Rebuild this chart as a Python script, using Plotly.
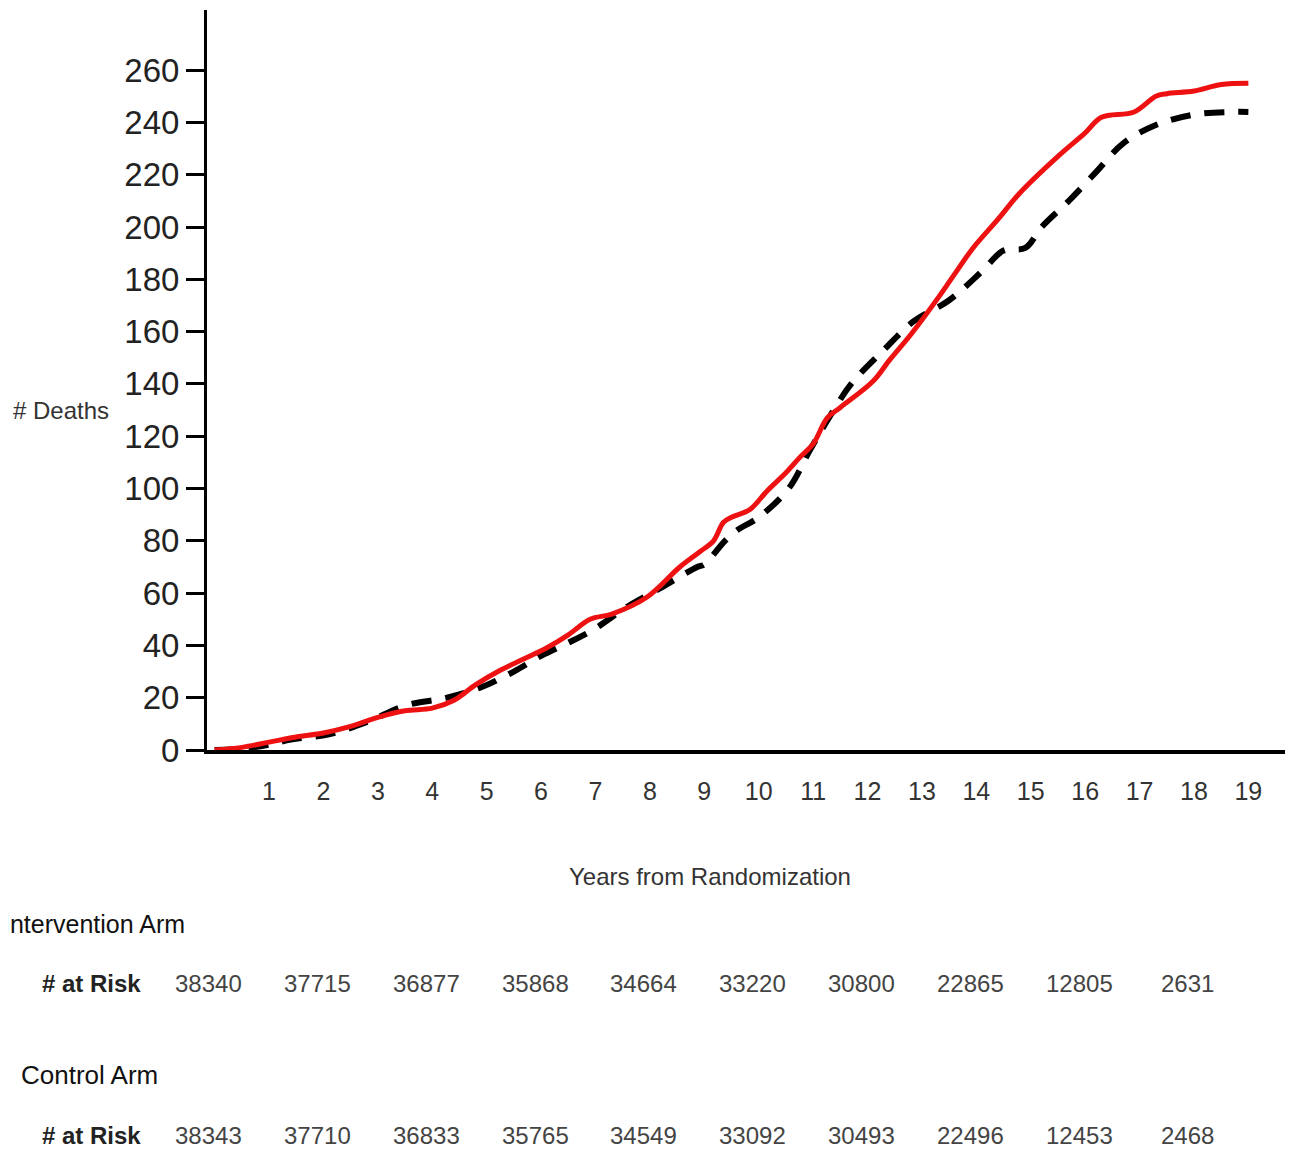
import plotly.graph_objects as go

# ---------------- data ----------------
int_years = [0, 0.5, 1, 1.5, 2, 2.5, 3, 3.5, 4, 4.4, 4.8, 5.25, 5.7, 6.1, 6.5, 6.9, 7.3, 7.95,
             8.55, 8.93, 9.17, 9.35, 9.5, 9.84, 10.15, 10.5, 10.76, 11.0, 11.26, 11.5, 12.1,
             12.4, 12.8, 13.3, 13.6, 13.94, 14.4, 14.8, 15.5, 16.0, 16.3, 16.9, 17.3, 17.5,
             18.0, 18.5, 19.0]
int_deaths = [0, 1, 3, 5, 6.5, 9, 12.5, 15, 16, 19, 25, 30.5, 35, 39, 44, 50, 52, 58.5,
              70, 76, 80, 87, 89, 92, 99, 106, 112, 117, 127, 131, 141,
              149, 159, 173, 182, 192, 203, 213, 227, 236, 242, 244, 250, 251,
              252, 254.5, 255]

ctl_years = [0, 0.5, 1, 1.4, 2.1, 2.8, 3.5, 4.27, 4.9, 5.5, 6.0, 6.5, 6.96, 7.6, 8.2, 8.87,
             9.0, 9.38, 9.6, 10.0, 10.55, 10.95, 11.35, 11.7, 12.3, 12.85, 13.5, 14.1, 14.5,
             14.9, 15.2, 15.7, 16.2, 16.7, 17.3, 18.0, 18.7, 19.0]
ctl_deaths = [0, 0.5, 2, 4, 6, 10.7, 17, 20, 24, 30, 36, 41, 46, 55, 62, 70,
              71, 80, 84, 89, 100, 115, 129, 140, 153, 164, 172, 183, 191,
              192, 200, 210, 221, 232, 239, 243, 244, 244]

y_ticks = list(range(0, 261, 20))
x_ticks = list(range(1, 20))

risk_years = [0, 2, 4, 6, 8, 10, 12, 14, 16, 18]
int_at_risk = ["38340", "37715", "36877", "35868", "34664", "33220", "30800", "22865", "12805", "2631"]
ctl_at_risk = ["38343", "37710", "36833", "35765", "34549", "33092", "30493", "22496", "12453", "2468"]

# ---------------- layout helpers ----------------
OFF = 8                      # page body margin
W, H = 1293 - OFF, 1159 - OFF
AX_L, AX_R, AX_T, AX_B = 207, 1287, 10, 750   # plot-area box in window pixels
L, R = AX_L - OFF, W - (AX_R - OFF)
T, B = AX_T - OFF, H - (AX_B - OFF)
PW, PH = AX_R - AX_L, AX_B - AX_T
FONT = "Liberation Sans, Arial, sans-serif"


def px(xp):
    return (xp - AX_L) / PW


def py(yp):
    return (AX_B - yp) / PH


fig = go.Figure()
fig.add_trace(go.Scatter(x=ctl_years, y=ctl_deaths, mode="lines", name="Control Arm",
                         line=dict(color="black", width=6, dash="20px,14px"),
                         line_shape="spline", hoverinfo="skip"))
fig.add_trace(go.Scatter(x=int_years, y=int_deaths, mode="lines", name="Intervention Arm",
                         line=dict(color="#ee1111", width=5),
                         line_shape="spline", hoverinfo="skip"))

annotations = []
annotations.append(dict(text="# Deaths", xref="paper", yref="paper", x=px(61), y=py(410),
                        xanchor="center", yanchor="middle", showarrow=False,
                        font=dict(family=FONT, size=24, color="#333")))
annotations.append(dict(text="Years from Randomization", xref="paper", yref="paper",
                        x=px(710), y=py(877), xanchor="center", yanchor="middle", showarrow=False,
                        font=dict(family=FONT, size=24, color="#333")))
annotations.append(dict(text="Intervention Arm", xref="paper", yref="paper", x=px(1), y=py(924),
                        xanchor="left", yanchor="middle", showarrow=False,
                        font=dict(family=FONT, size=25, color="#111")))
annotations.append(dict(text="Control Arm", xref="paper", yref="paper", x=px(19), y=py(1075),
                        xanchor="left", yanchor="middle", showarrow=False,
                        font=dict(family=FONT, size=26, color="#111")))
for yrow in (983, 1135):
    annotations.append(dict(text="<b># at Risk</b>", xref="paper", yref="paper", x=px(143), y=py(yrow),
                            xanchor="right", yanchor="middle", showarrow=False,
                            font=dict(family=FONT, size=24, color="#222")))
for yr, v1, v2 in zip(risk_years, int_at_risk, ctl_at_risk):
    annotations.append(dict(text=v1, xref="x", yref="paper", x=yr, xshift=-6, y=py(983),
                            xanchor="center", yanchor="middle",
                            showarrow=False, font=dict(family=FONT, size=24, color="#444")))
    annotations.append(dict(text=v2, xref="x", yref="paper", x=yr, xshift=-6, y=py(1135),
                            xanchor="center", yanchor="middle",
                            showarrow=False, font=dict(family=FONT, size=24, color="#444")))

fig.update_layout(
    width=W, height=H,
    margin=dict(l=L, r=R, t=T, b=B, pad=0),
    plot_bgcolor="white", paper_bgcolor="white",
    showlegend=False,
    annotations=annotations,
    xaxis=dict(range=[-0.14, 19.71], tickvals=x_ticks, ticktext=[str(t) for t in x_ticks],
               showgrid=False, zeroline=False, showline=True, linecolor="black", linewidth=4,
               ticks="", ticklabelstandoff=16,
               tickfont=dict(family=FONT, size=25, color="#333")),
    yaxis=dict(range=[0, 283], tickvals=y_ticks, ticktext=[str(t) for t in y_ticks],
               showgrid=False, zeroline=False, showline=True, linecolor="black", linewidth=3,
               ticks="outside", ticklen=18, tickwidth=3, tickcolor="black",
               ticklabelstandoff=0,
               tickfont=dict(family=FONT, size=33, color="#222")),
)

fig.write_html("out.html")
